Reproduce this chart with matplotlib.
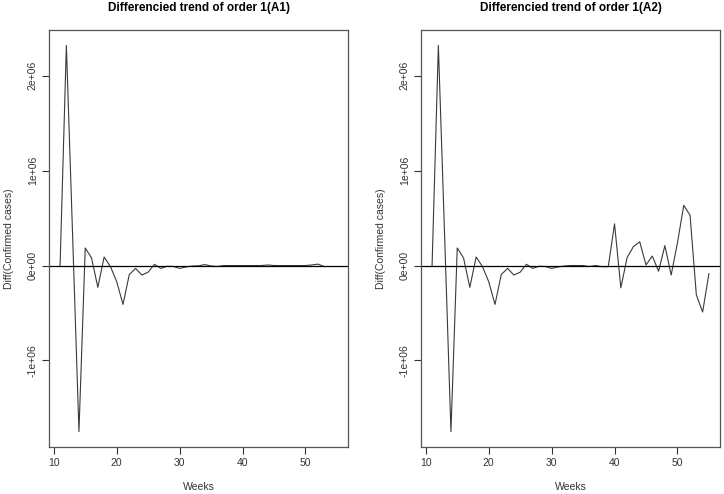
import numpy as np
import matplotlib
matplotlib.use('Agg')
import matplotlib.pyplot as plt
from matplotlib.ticker import FixedLocator

plt.rcParams['font.family'] = ['Liberation Sans', 'DejaVu Sans']

weeks = list(range(11, 56))

# first differences of weekly confirmed cases, region A1 (ends at week 53)
diff_a1 = [0, 2.32e6, 0.30e6, -1.75e6, 0.185e6, 0.08e6, -0.23e6, 0.09e6,
           -0.01e6, -0.17e6, -0.41e6, -0.095e6, -0.03e6, -0.10e6, -0.07e6,
           0.013e6, -0.03e6, -0.008e6, -0.01e6, -0.03e6, -0.015e6, -0.005e6,
           -0.003e6, 0.01e6, -0.005e6, -0.01e6, 0, 0, 0, 0, 0, 0, 0,
           0.006e6, 0, 0, 0, 0, 0, 0, 0.006e6, 0.015e6, -0.012e6,
           np.nan, np.nan]

# region A2
diff_a2 = [0, 2.32e6, 0.30e6, -1.75e6, 0.185e6, 0.08e6, -0.23e6, 0.09e6,
           -0.01e6, -0.17e6, -0.41e6, -0.095e6, -0.03e6, -0.10e6, -0.07e6,
           0.013e6, -0.03e6, -0.008e6, -0.01e6, -0.03e6, -0.015e6, -0.005e6,
           0, 0, 0, -0.01e6, 0, -0.012e6, -0.012e6, 0.44e6, -0.235e6,
           0.084e6, 0.20e6, 0.25e6, 0.006e6, 0.10e6, -0.06e6, 0.21e6,
           -0.10e6, 0.24e6, 0.635e6, 0.53e6, -0.31e6, -0.49e6, -0.085e6]

titles = ['Differencied trend of order 1(A1)', 'Differencied trend of order 1(A2)']
xticks = [10, 20, 30, 40, 50]
yticks = [-1e6, 0, 1e6, 2e6]
ytick_labels = ['-1e+06', '0e+00', '1e+06', '2e+06']

fig = plt.figure(figsize=(7.24, 4.94), dpi=100)
positions = [[49 / 724, 47 / 494, 299 / 724, 417 / 494],
             [421 / 724, 47 / 494, 299 / 724, 417 / 494]]

ymin = np.nanmin(diff_a1 + diff_a2)
ymax = np.nanmax(diff_a1 + diff_a2)
yr = ymax - ymin
xr = weeks[-1] - weeks[0]

for pos, series, title in zip(positions, [diff_a1, diff_a2], titles):
    ax = fig.add_axes(pos)
    ax.plot(weeks, series, color='#3a3a3a', lw=0.8)
    ax.axhline(0, color='black', lw=0.9)
    ax.set_xlim(weeks[0] - 0.04 * xr, weeks[-1] + 0.04 * xr)
    ax.set_ylim(ymin - 0.04 * yr, ymax + 0.04 * yr)
    ax.xaxis.set_major_locator(FixedLocator(xticks))
    ax.set_xticklabels([str(t) for t in xticks])
    ax.yaxis.set_major_locator(FixedLocator(yticks))
    ax.set_yticklabels(ytick_labels, rotation=90, va='center')
    ax.tick_params(direction='out', length=5, width=0.8, colors='#333333',
                   labelsize=7.5, pad=3)
    for s in ax.spines.values():
        s.set_color('#555555')
        s.set_linewidth(0.9)
    ax.set_title(title, fontsize=8.5, fontweight='bold', pad=14)
    ax.set_xlabel('Weeks', fontsize=7.5, color='#333333', labelpad=10)
    ax.set_ylabel('Diff(Confirmed cases)', fontsize=7.5, color='#333333',
                  labelpad=10)

fig.savefig('out.png', dpi=100)
